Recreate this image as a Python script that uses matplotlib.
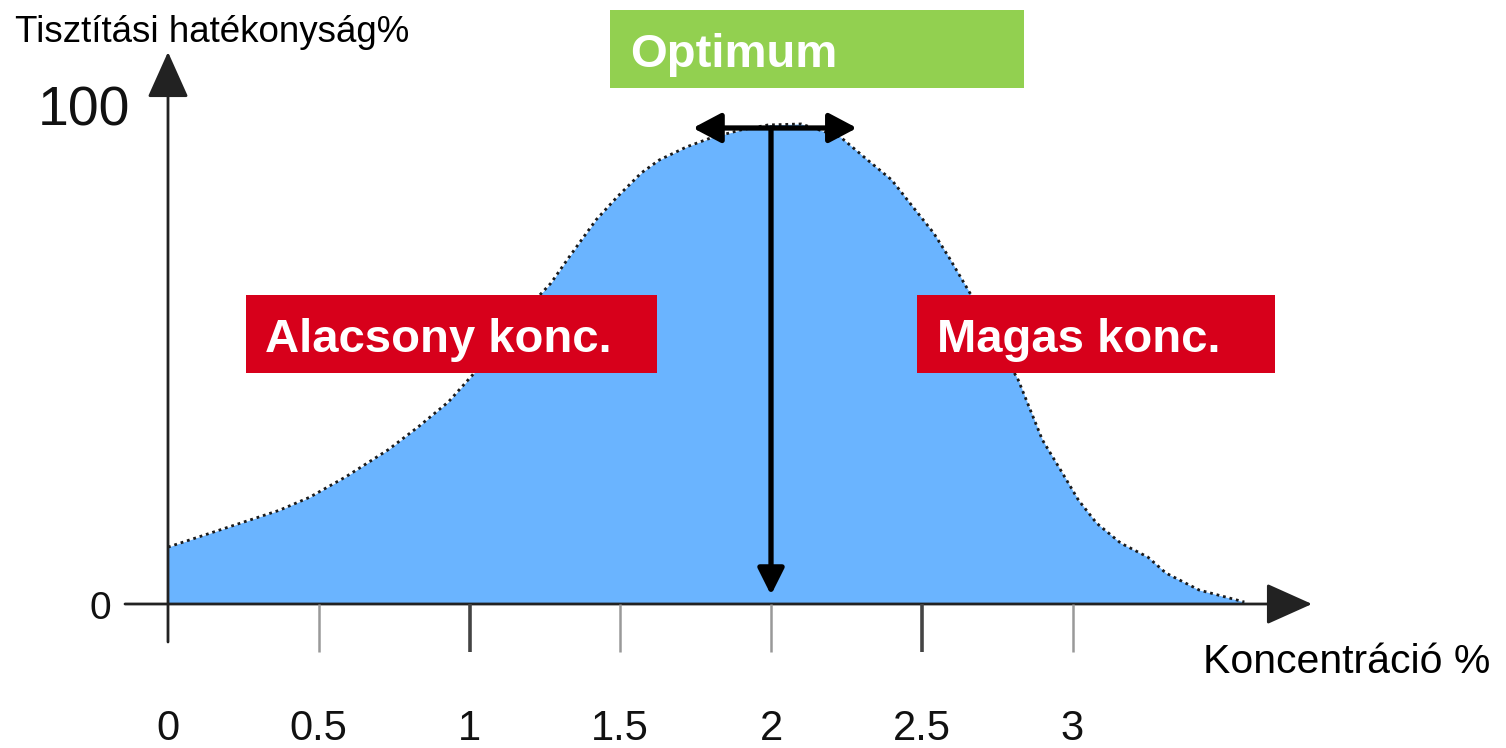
import matplotlib.pyplot as plt
from matplotlib.patches import Rectangle

plt.rcParams['font.family'] = ['Liberation Sans', 'DejaVu Sans']

# tisztítási hatékonyság (%) a koncentráció (%) függvényében
konc = [0.0, 0.24, 0.37, 0.47, 0.59, 0.73, 0.83, 0.93, 1.01, 1.13, 1.27, 1.33,
        1.42, 1.49, 1.57, 1.63, 1.72, 1.80, 1.90, 1.99, 2.10, 2.23, 2.32, 2.40,
        2.46, 2.54, 2.59, 2.66, 2.82, 2.86, 2.90, 2.96, 3.02, 3.08, 3.16, 3.25,
        3.31, 3.42, 3.57]
hatekonysag = [11.4, 16.2, 18.8, 21.4, 25.5, 30.9, 35.5, 40.5, 45.9, 55.3, 64.3, 69.5,
               77.0, 81.6, 86.4, 89.0, 91.6, 93.4, 95.0, 96.0, 96.2, 93.6, 89.0, 85.0,
               80.4, 74.3, 69.5, 62.3, 44.9, 38.9, 32.9, 26.9, 20.8, 16.2, 12.2, 9.4,
               6.2, 2.8, 0.4]

tick_vals = [0, 0.5, 1, 1.5, 2, 2.5, 3]
tick_labels = ['0', '0.5', '1', '1.5', '2', '2.5', '3']
dark_ticks = [0, 1, 2.5]
optimum = 2.0
optimum_range = (1.741, 2.285)

W, H = 1506, 748
fig = plt.figure(figsize=(W / 100, H / 100), dpi=100)
ax = fig.add_axes([0, 0, 1, 1])

# origin at pixel (168, 604); px per unit on each axis
x0, y0, sx, sy = 168, 604, 301.5, 4.99
ax.set_xlim(-x0 / sx, (W - x0) / sx)
ax.set_ylim(-(H - y0) / sy, y0 / sy)
ax.axis('off')


def px(x, y):
    """pixel position -> data coordinates"""
    return (x - x0) / sx, (y0 - y) / sy


# area under curve
ax.fill_between(konc, hatekonysag, 0, color='#6AB4FF', lw=0, zorder=1)
ax.plot(konc, hatekonysag, color='#1a1a1a', lw=2.0, ls=(0, (1, 1.4)), zorder=2)

# axes with arrow heads
head = '-|>,head_length=2.9,head_width=1.3'
ax.annotate('', xy=px(168, 52), xytext=px(168, 642),
            arrowprops=dict(arrowstyle=head, color='#222222', lw=2,
                            shrinkA=0, shrinkB=0, mutation_scale=10), zorder=3)
ax.annotate('', xy=px(1312, 604), xytext=px(125, 604),
            arrowprops=dict(arrowstyle=head, color='#222222', lw=2,
                            shrinkA=0, shrinkB=0, mutation_scale=10), zorder=3)

# x ticks and labels
tick_bottom = px(0, 652)[1]
for v, lab in zip(tick_vals, tick_labels):
    if v == 0:
        continue
    col = '#444444' if v in dark_ticks else '#999999'
    lw = 2.6 if v in dark_ticks else 1.8
    ax.plot([v, v], [0, tick_bottom], color=col, lw=lw, solid_capstyle='butt', zorder=3)
    ax.text(v, px(0, 740)[1], lab, ha='center', va='baseline', fontsize=30, color='#111111')
ax.text(0, px(0, 740)[1], tick_labels[0], ha='center', va='baseline', fontsize=30, color='#111111')

# y labels
ax.text(px(130, 0)[0], px(0, 125)[1], '100', ha='right', va='baseline', fontsize=40, color='#111111')
ax.text(px(111, 0)[0], px(0, 619)[1], '0', ha='right', va='baseline', fontsize=28, color='#111111')

# axis titles
ax.text(*px(15, 42), 'Tisztítási hatékonyság%', ha='left', va='baseline', fontsize=26.5)
ax.text(*px(1203, 673), 'Koncentráció %', ha='left', va='baseline', fontsize=29.5)

# optimum arrows
ax.annotate('', xy=(optimum_range[0], px(0, 128)[1]), xytext=(optimum_range[1], px(0, 128)[1]),
            arrowprops=dict(arrowstyle='<|-|>,head_length=1.7,head_width=0.9', color='black',
                            lw=3.8, shrinkA=0, shrinkB=0, mutation_scale=10), zorder=4)
ax.annotate('', xy=(optimum, px(0, 595)[1]), xytext=(optimum, px(0, 128)[1]),
            arrowprops=dict(arrowstyle='-|>,head_length=1.6,head_width=0.8', color='black',
                            lw=3.8, shrinkA=0, shrinkB=0, mutation_scale=10), zorder=4)

# labelled boxes
boxes = [
    ((610, 10, 1024, 88), '#92D050', 'Optimum', (630, 67)),
    ((246, 295, 657, 373), '#D7001B', 'Alacsony konc.', (265, 352)),
    ((917, 295, 1275, 373), '#D7001B', 'Magas konc.', (937, 352)),
]
for (l, t, r, b), col, lab, (tx, ty) in boxes:
    ax.add_patch(Rectangle(px(l, b), (r - l) / sx, (b - t) / sy, color=col, lw=0, zorder=5))
    ax.text(*px(tx, ty), lab, ha='left', va='baseline', fontsize=34, fontweight='bold',
            color='white', zorder=6)

fig.savefig('out.png', dpi=100)
